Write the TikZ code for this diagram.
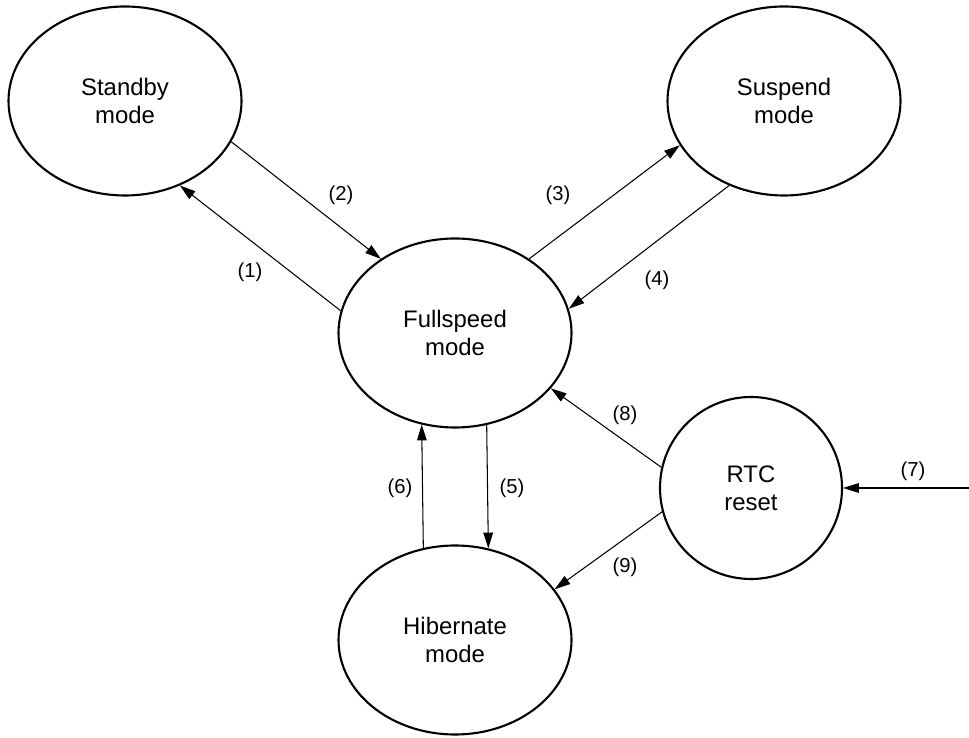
\documentclass[tikz,border=0pt]{standalone}
\usepackage{fontspec}
\setmainfont{Liberation Sans}
\usetikzlibrary{arrows.meta,shapes.geometric}

\begin{document}
\begin{tikzpicture}[
  state/.style={draw,ellipse,line width=1.2pt,minimum width=4.66cm,minimum height=3.78cm,
    inner sep=0pt,align=center,font=\fontsize{13.6}{15.9}\selectfont},
  arr/.style={-{Triangle[length=9pt,width=5.5pt]},line width=0.6pt},
  lbl/.style={font=\fontsize{11.5}{13}\selectfont}]
  \useasboundingbox (0,0) rectangle (19.38,14.76);
  % states
  \node[state] (standby) at (2.50,12.74) {Standby\\mode};
  \node[state] (suspend) at (15.68,12.74) {Suspend\\mode};
  \node[state] (full) at (9.10,8.10) {Fullspeed\\mode};
  \node[state] (hib) at (9.10,1.96) {Hibernate\\mode};
  \node[state,circle,minimum size=3.64cm] (rtc) at (15.02,5.00) {RTC\\reset};
  \coordinate (rtcin) at (19.38,5.00);
  % transitions
  \draw[arr] (full.169) -- (standby.303);
  \draw[arr] (standby.339) -- (full.135);
  \draw[arr] (full.45) -- (suspend.203);
  \draw[arr] (suspend.237) -- (full.12);
  \draw[arr] (full.289.5) -- (hib.70.5);
  \draw[arr] (hib.109.5) -- (full.250.5);
  \draw[arr] (rtcin) -- (rtc.east);
  \draw[arr] (rtc.167) -- (full.330);
  \draw[arr] (rtc.195) -- (hib.27);
  % labels
  \node[lbl] (l1) at (5.00,9.32) {(1)};
  \node[lbl] (l2) at (6.82,10.86) {(2)};
  \node[lbl] (l3) at (11.16,10.86) {(3)};
  \node[lbl] (l4) at (13.14,9.16) {(4)};
  \node[lbl] (l5) at (10.24,5.00) {(5)};
  \node[lbl] (l6) at (8.00,5.00) {(6)};
  \node[lbl] (l7) at (18.26,5.34) {(7)};
  \node[lbl] (l8) at (12.50,6.46) {(8)};
  \node[lbl] (l9) at (12.50,3.42) {(9)};
\end{tikzpicture}
\end{document}
